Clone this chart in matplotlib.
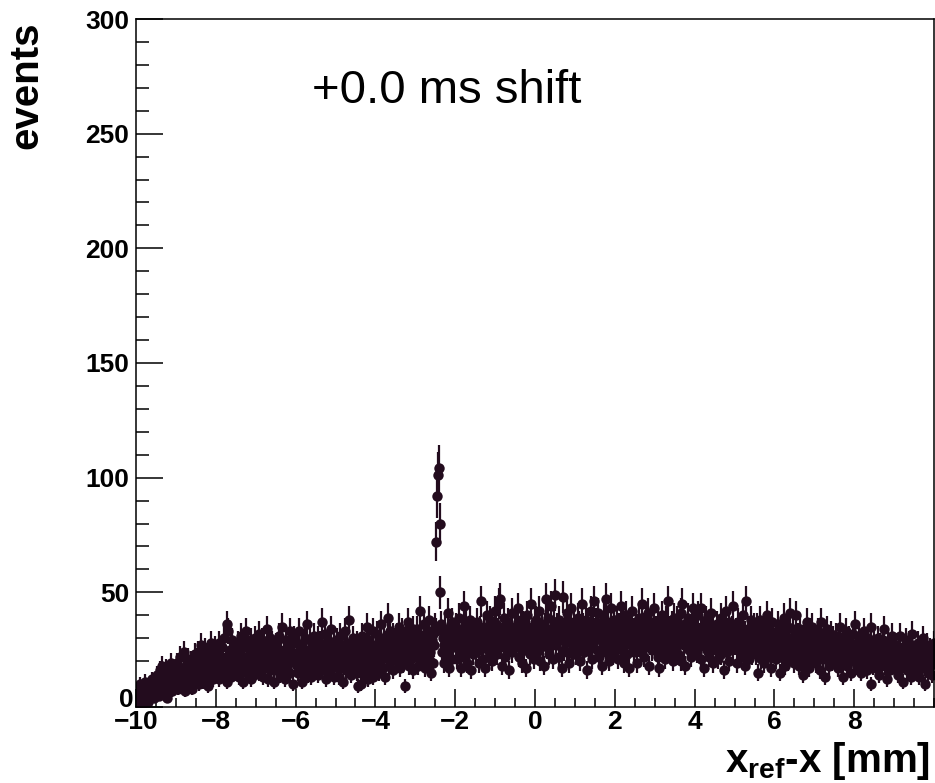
import numpy as np
import matplotlib
matplotlib.use("Agg")
import matplotlib.pyplot as plt
import matplotlib.transforms as mtransforms
from matplotlib.ticker import MultipleLocator

plt.rcParams['font.family'] = ['Liberation Sans', 'DejaVu Sans']
plt.rcParams['mathtext.fontset'] = 'custom'
plt.rcParams['mathtext.rm'] = 'Liberation Sans'
plt.rcParams['mathtext.bf'] = 'Liberation Sans:bold'

# histogram range and bin contents (1000 bins of 0.02 mm, one row = 0.5 mm)
x_min, x_max = -10.0, 10.0
counts = [
    3, 8, 2, 6, 10, 4, 7, 1, 5, 9, 3, 11, 6, 4, 8, 2, 10, 7, 5, 12, 6, 9, 4, 8, 11,
    7, 14, 10, 5, 16, 12, 8, 18, 11, 6, 13, 9, 17, 4, 12, 15, 8, 11, 19, 10, 7, 14, 12, 9, 16,
    12, 19, 8, 15, 22, 11, 17, 9, 14, 24, 13, 7, 18, 15, 10, 21, 16, 12, 20, 8, 14, 18, 11, 23, 15,
    20, 13, 24, 16, 10, 19, 27, 15, 11, 21, 17, 25, 12, 18, 23, 9, 19, 16, 28, 14, 20, 12, 22, 17, 26,
    15, 23, 18, 28, 12, 21, 17, 26, 14, 20, 30, 16, 22, 11, 36, 33, 19, 25, 13, 22, 29, 18, 24, 15, 21,
    24, 16, 28, 20, 13, 23, 31, 18, 22, 11, 26, 19, 33, 15, 21, 27, 17, 24, 12, 29, 20, 25, 14, 22, 30,
    18, 26, 21, 32, 15, 24, 19, 29, 13, 23, 27, 17, 22, 34, 20, 12, 25, 30, 16, 23, 28, 19, 11, 26, 21,
    27, 16, 23, 19, 31, 14, 24, 21, 35, 18, 25, 12, 22, 29, 17, 26, 20, 33, 15, 23, 28, 10, 21, 30, 19,
    20, 28, 15, 24, 33, 19, 22, 11, 27, 21, 16, 30, 23, 18, 36, 14, 25, 20, 29, 13, 22, 26, 17, 31, 23,
    25, 18, 30, 14, 23, 28, 20, 37, 16, 24, 21, 32, 12, 26, 19, 29, 22, 15, 27, 34, 18, 24, 13, 28, 22,
    21, 29, 17, 25, 13, 31, 23, 19, 27, 11, 24, 33, 20, 16, 28, 22, 38, 18, 26, 14, 23, 30, 19, 25, 17,
    24, 15, 28, 9, 21, 26, 18, 10, 31, 20, 14, 27, 23, 17, 35, 12, 22, 29, 16, 25, 19, 33, 13, 24, 20,
    27, 19, 32, 23, 15, 29, 25, 36, 21, 17, 30, 26, 13, 28, 22, 39, 24, 18, 33, 20, 27, 31, 16, 25, 29,
    24, 31, 20, 28, 35, 17, 26, 22, 33, 19, 29, 25, 9, 30, 23, 37, 18, 27, 32, 21, 26, 16, 34, 24, 28,
    29, 22, 34, 18, 27, 42, 25, 31, 20, 28, 36, 23, 17, 30, 26, 33, 21, 38, 24, 15, 29, 32, 19, 27, 35,
    33, 72, 92, 101, 104, 80, 50, 36, 24, 30, 19, 27, 34, 22, 29, 41, 25, 17, 31, 28, 37, 21, 26, 33, 30,
    27, 35, 21, 31, 39, 24, 29, 17, 33, 26, 44, 22, 30, 36, 19, 28, 32, 25, 38, 16, 29, 34, 23, 31, 27,
    32, 24, 37, 28, 19, 34, 30, 46, 26, 21, 35, 29, 17, 31, 40, 25, 33, 22, 38, 28, 20, 36, 30, 27, 42,
    28, 36, 23, 33, 45, 47, 26, 31, 18, 34, 29, 39, 22, 30, 25, 37, 32, 16, 28, 35, 41, 24, 31, 27, 33,
    35, 26, 31, 43, 22, 33, 28, 38, 19, 30, 36, 25, 32, 17, 29, 40, 27, 34, 23, 31, 45, 26, 33, 21, 37,
    30, 38, 24, 34, 29, 42, 20, 33, 36, 27, 31, 18, 35, 47, 26, 32, 39, 23, 30, 44, 28, 34, 21, 37, 31,
    49, 27, 35, 31, 22, 38, 29, 34, 17, 32, 48, 25, 36, 30, 41, 24, 33, 19, 35, 28, 43, 31, 23, 37, 29,
    34, 23, 31, 39, 27, 36, 20, 33, 45, 29, 35, 24, 32, 38, 16, 30, 37, 26, 33, 42, 28, 21, 35, 46, 31,
    29, 37, 25, 33, 41, 22, 31, 35, 18, 34, 28, 39, 30, 47, 24, 32, 36, 20, 33, 27, 43, 30, 23, 35, 38,
    33, 26, 38, 30, 21, 35, 29, 44, 25, 32, 37, 19, 31, 28, 40, 23, 34, 17, 30, 36, 27, 42, 32, 24, 33,
    30, 36, 19, 33, 27, 39, 31, 24, 45, 29, 35, 22, 32, 38, 26, 30, 41, 18, 34, 28, 37, 25, 31, 43, 29,
    28, 34, 31, 22, 37, 17, 32, 29, 40, 25, 35, 30, 21, 33, 38, 27, 46, 31, 24, 34, 29, 36, 20, 32, 39,
    32, 26, 38, 30, 23, 35, 28, 41, 20, 45, 31, 27, 36, 18, 33, 29, 39, 25, 34, 30, 22, 37, 28, 43, 31,
    29, 35, 24, 33, 40, 27, 31, 43, 21, 34, 30, 17, 36, 28, 38, 25, 32, 22, 35, 29, 41, 26, 33, 19, 31,
    31, 25, 36, 28, 21, 34, 30, 39, 23, 33, 27, 16, 35, 29, 42, 24, 31, 37, 20, 32, 28, 34, 26, 44, 30,
    28, 33, 19, 31, 37, 25, 30, 22, 35, 27, 40, 24, 32, 18, 46, 29, 34, 21, 30, 26, 38, 23, 31, 28, 35,
    30, 23, 35, 27, 15, 32, 28, 38, 21, 29, 33, 25, 19, 31, 36, 40, 26, 22, 34, 28, 17, 30, 37, 24, 29,
    26, 32, 21, 29, 36, 24, 15, 28, 33, 22, 30, 39, 25, 18, 31, 27, 35, 20, 28, 41, 23, 30, 26, 34, 19,
    28, 22, 40, 25, 31, 18, 27, 34, 23, 29, 14, 26, 32, 20, 30, 37, 24, 28, 17, 33, 25, 21, 35, 27, 23,
    24, 30, 19, 27, 33, 22, 26, 16, 37, 25, 21, 31, 28, 13, 26, 34, 23, 29, 18, 27, 32, 20, 25, 30, 22,
    26, 20, 31, 23, 17, 28, 24, 35, 19, 27, 22, 13, 29, 25, 33, 21, 18, 26, 30, 23, 15, 28, 24, 32, 20,
    36, 21, 27, 18, 24, 31, 20, 26, 15, 29, 23, 19, 33, 22, 27, 16, 25, 30, 21, 26, 10, 35, 22, 18, 28,
    20, 26, 17, 24, 30, 21, 14, 27, 23, 19, 29, 22, 34, 18, 25, 12, 23, 28, 20, 16, 26, 21, 31, 24, 19,
    23, 18, 27, 21, 14, 25, 20, 31, 17, 22, 26, 11, 24, 19, 29, 21, 16, 23, 28, 20, 13, 25, 32, 18, 22,
    19, 24, 16, 22, 28, 18, 13, 21, 26, 20, 17, 30, 22, 10, 24, 19, 27, 15, 21, 25, 18, 23, 14, 20, 28,
]
x_ticks = [-10, -8, -6, -4, -2, 0, 2, 4, 6, 8]
y_ticks = [0, 50, 100, 150, 200, 250, 300]
label_shift = "+0.0 ms shift"

cor = '#230c1e'

counts = np.array(counts, dtype=float)
bordas = np.linspace(x_min, x_max, len(counts) + 1)
centros = 0.5 * (bordas[:-1] + bordas[1:])
erros = np.sqrt(counts)

fig = plt.figure(figsize=(9.35, 7.83), dpi=100)
ax = fig.add_axes([0.1455, 0.0971, 0.8535, 0.8786])

ax.errorbar(centros, counts, yerr=erros, fmt='o', ms=7.5, color=cor,
            ecolor=cor, elinewidth=1.6, capsize=0, mew=0)

ax.set_xlim(x_min, x_max)
ax.set_ylim(0, 300)
ax.set_xticks(x_ticks)
ax.set_yticks(y_ticks)
ax.xaxis.set_minor_locator(MultipleLocator(0.5))
ax.yaxis.set_minor_locator(MultipleLocator(10))

ax.tick_params(which='both', direction='in', top=False, right=False, width=1.1)
ax.tick_params(axis='x', which='major', length=13, pad=2, labelsize=19)
ax.tick_params(axis='x', which='minor', length=6.5)
ax.tick_params(axis='y', which='major', length=19.5, pad=5, labelsize=19)
ax.tick_params(axis='y', which='minor', length=9.5)
for lbl in ax.get_xticklabels() + ax.get_yticklabels():
    lbl.set_fontweight('bold')
for sp in ax.spines.values():
    sp.set_linewidth(1.1)

# ROOT puts the "0" of the y axis a bit up and to the right
zero = ax.get_yticklabels()[0]
zero.set_transform(zero.get_transform() +
                   mtransforms.ScaledTranslation(5 / 100, 9 / 100, fig.dpi_scale_trans))

fig.text(0.028, 0.972, 'events', rotation=90, ha='center', va='top',
         fontsize=29, fontweight='bold')
fig.text(0.995, 0.014, r'x$_{\mathbf{ref}}$-x [mm]', ha='right', va='baseline',
         fontsize=29, fontweight='bold')
ax.text(0.22, 0.878, label_shift, transform=ax.transAxes, fontsize=34,
        ha='left', va='baseline')

fig.savefig('out.png', dpi=100)
